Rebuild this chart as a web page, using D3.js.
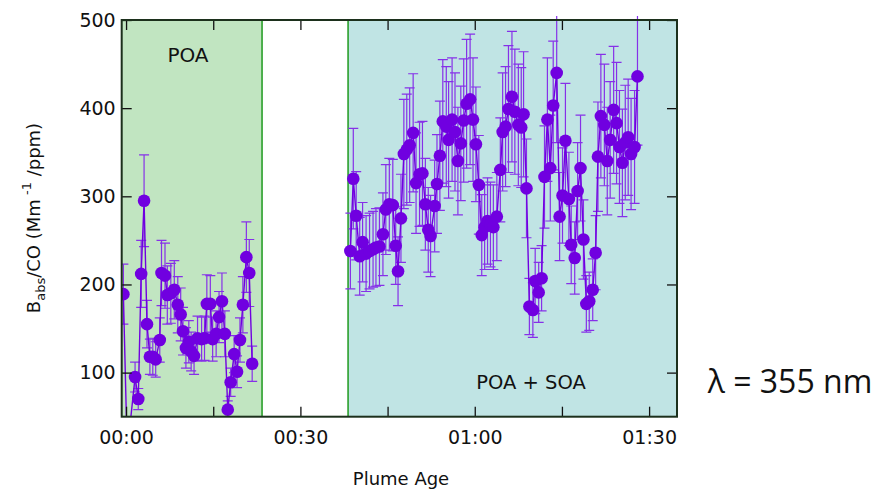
<!DOCTYPE html>
<html lang="en">
<head>
<meta charset="UTF-8">
<script src="https://d3js.org/d3.v7.min.js"></script>
<title>Babs/CO vs plume age</title>
<style>
  body { margin: 0; background: #fff; }
  svg { display: block; }
  text { font-family: "DejaVu Sans", sans-serif; fill: #111; }
</style>
</head>
<body>
<svg id="chart" width="879" height="490"></svg>
<script>
// plume age (minutes), Babs/CO and error, primary-only part
const poaAge = [-0.46, 0.2, 1.55, 2.1, 2.6, 3.1, 3.6, 4.1, 4.6, 5.1,
                5.8, 6.1, 6.7, 7.1, 7.7, 8.3, 8.9, 9.4, 9.8, 10.3,
                10.8, 11.2, 11.7, 12.3, 13.0, 13.5, 13.9, 14.5, 14.9, 15.5,
                16.0, 16.5, 17.0, 17.5, 18.0, 18.6, 19.1, 19.6, 20.1, 20.7,
                21.2, 21.7];
const poaRatio = [189, 10, 95, 70, 212, 295, 155, 118, 118, 115,
                  137, 213, 210, 188, 190, 194, 177, 166, 147, 128,
                  135, 124, 119, 139, 138, 139, 178, 178, 138, 144,
                  163, 181, 144, 58, 89, 121, 101, 137, 177, 231,
                  213, 110];
const poaErr = [34, 6, 17, 12, 38, 52, 27, 20, 21, 20,
                25, 37, 37, 33, 34, 33, 32, 30, 27, 23,
                24, 22, 21, 25, 25, 25, 33, 32, 25, 26,
                29, 32, 26, 10, 16, 21, 18, 25, 32, 40,
                38, 20];

// aged part (POA + SOA)
const soaAge = [38.6, 39.1, 39.6, 40.2, 40.7, 41.3, 41.9, 42.5, 43.0, 43.6,
                44.2, 44.7, 45.3, 45.9, 46.4, 46.8, 47.3, 47.8, 48.3, 48.8,
                49.4, 49.9, 50.5, 51.0, 51.5, 52.0, 52.4, 53.1, 53.5, 54.0,
                54.5, 55.1, 55.5, 56.1, 56.6, 57.1, 57.6, 58.1, 58.6, 59.2,
                59.7, 60.2, 60.7, 61.2, 61.7, 62.2, 62.7, 63.2, 63.8, 64.4,
                64.8, 65.3, 65.8, 66.4, 66.9, 67.5, 68.0, 68.4, 68.9, 69.4,
                70.0, 70.4, 71.0, 71.5, 72.0, 72.5, 73.0, 73.5, 74.1, 74.6,
                75.1, 75.6, 76.2, 76.6, 77.2, 77.7, 78.2, 78.7, 79.2, 79.7,
                80.3, 80.8, 81.2, 81.7, 82.3, 82.8, 83.3, 83.9, 84.4, 84.9,
                85.4, 85.9, 86.4, 86.9, 87.5, 88.0];
const soaRatio = [238, 320, 278, 232, 248, 235, 238, 240, 242, 243,
                  257, 285, 291, 290, 244, 215, 275, 348, 353, 358,
                  372, 315, 325, 326, 291, 262, 255, 289, 314, 346,
                  385, 379, 364, 387, 373, 340, 360, 386, 405, 410,
                  387, 359, 313, 256, 265, 272, 268, 265, 277, 330,
                  373, 379, 399, 413, 396, 381, 378, 393, 309, 175,
                  171, 204, 191, 207, 322, 387, 332, 403, 440, 277,
                  301, 363, 297, 245, 230, 306, 332, 251, 178, 181,
                  194, 236, 345, 391, 381, 340, 364, 398, 383, 356,
                  338, 361, 367, 348, 356, 436];
const soaErr = [43, 57, 50, 44, 45, 43, 43, 43, 44, 44,
                47, 51, 52, 52, 44, 39, 50, 62, 63, 65,
                67, 57, 59, 59, 52, 48, 46, 52, 56, 62,
                70, 68, 66, 70, 67, 61, 65, 70, 73, 74,
                70, 65, 56, 46, 48, 49, 48, 48, 50, 59,
                67, 68, 72, 74, 71, 69, 68, 71, 56, 32,
                31, 37, 34, 37, 58, 70, 60, 73, 79, 50,
                54, 65, 53, 44, 41, 55, 60, 45, 32, 33,
                35, 42, 62, 70, 69, 61, 66, 72, 69, 64,
                61, 65, 66, 63, 64, 78];

// shaded regimes (minutes) and axis ticks
const poaBand = [-0.75, 23.4];
const soaBand = [38.2, 94.8];
const xTicks = [0, 15, 30, 45, 60, 75, 90];
const xLabelTicks = [0, 30, 60, 90];
const yTicks = [100, 200, 300, 400, 500];

const svg = d3.select("#chart");
const plotL = 121.7, plotR = 677, plotT = 20, plotB = 416.7;

const x = d3.scaleLinear().domain([-0.75, 94.8]).range([plotL, plotR]);
const y = d3.scaleLinear().domain([50, 500]).range([plotB, plotT]);

const purple = "#7000e0";

// background bands
svg.append("rect")
    .attr("x", x(poaBand[0])).attr("y", plotT)
    .attr("width", x(poaBand[1]) - x(poaBand[0])).attr("height", plotB - plotT)
    .style("fill", "#c1e5c1");
svg.append("rect")
    .attr("x", x(soaBand[0])).attr("y", plotT)
    .attr("width", x(soaBand[1]) - x(soaBand[0])).attr("height", plotB - plotT)
    .style("fill", "#c0e4e4");
[poaBand[1], soaBand[0]].forEach(b => {
    svg.append("line")
        .attr("x1", x(b)).attr("x2", x(b))
        .attr("y1", plotT).attr("y2", plotB)
        .style("stroke", "#1e9a1e").style("stroke-width", 1.5);
});

svg.append("text")
    .attr("x", 188).attr("y", 62)
    .attr("text-anchor", "middle")
    .style("font-size", "20px")
    .text("POA");
svg.append("text")
    .attr("x", 531).attr("y", 389)
    .attr("text-anchor", "middle")
    .style("font-size", "19.5px")
    .text("POA + SOA");

// clip for data
svg.append("clipPath").attr("id", "plot-clip")
    .append("rect")
    .attr("x", plotL).attr("y", plotT - 4)
    .attr("width", plotR - plotL).attr("height", plotB - plotT + 4);

function fmtAge(m) {
    const f = d3.format("02d");
    return f(Math.floor(m / 60)) + ":" + f(m % 60);
}

function drawSeries(ages, vals, errs) {
    const pts = ages.map((a, i) => ({ a: a, v: vals[i], e: errs[i] }));
    const g = svg.append("g").attr("clip-path", "url(#plot-clip)");

    // error bars
    const eb = g.selectAll(".err").data(pts).enter().append("g");
    eb.append("line")
        .attr("x1", d => x(d.a)).attr("x2", d => x(d.a))
        .attr("y1", d => y(d.v - d.e)).attr("y2", d => y(d.v + d.e))
        .style("stroke", "#8630e8").style("stroke-width", 1.2);
    [-1, 1].forEach(s => {
        eb.append("line")
            .attr("x1", d => x(d.a) - 5).attr("x2", d => x(d.a) + 5)
            .attr("y1", d => y(d.v + s * d.e)).attr("y2", d => y(d.v + s * d.e))
            .style("stroke", "#8630e8").style("stroke-width", 1.2);
    });

    const line = d3.line().x(d => x(d.a)).y(d => y(d.v));
    g.append("path")
        .datum(pts)
        .attr("d", line)
        .style("fill", "none")
        .style("stroke", purple)
        .style("stroke-width", 1.4);

    g.selectAll(".pt").data(pts).enter().append("circle")
        .attr("cx", d => x(d.a)).attr("cy", d => y(d.v))
        .attr("r", 6.3)
        .style("fill", purple);
}

drawSeries(poaAge, poaRatio, poaErr);
drawSeries(soaAge, soaRatio, soaErr);

// axes with inward ticks
function styleAxis(g) {
    g.select(".domain").remove();
    g.selectAll(".tick line").style("stroke", "#111").style("stroke-width", 1.3);
    g.selectAll(".tick text")
        .style("font-family", "DejaVu Sans, sans-serif")
        .style("font-size", "19px")
        .style("fill", "#111");
}

svg.append("g")
    .attr("transform", `translate(0,${plotB})`)
    .call(d3.axisBottom(x).tickValues(xTicks).tickSize(-10).tickPadding(14)
        .tickFormat(d => xLabelTicks.includes(d) ? fmtAge(d) : ""))
    .call(styleAxis);
svg.append("g")
    .attr("transform", `translate(0,${plotT})`)
    .call(d3.axisTop(x).tickValues(xTicks).tickSize(-10).tickFormat(""))
    .call(styleAxis);
svg.append("g")
    .attr("transform", `translate(${plotL},0)`)
    .call(d3.axisLeft(y).tickValues(yTicks).tickSize(-10).tickPadding(6))
    .call(styleAxis);
svg.append("g")
    .attr("transform", `translate(${plotR},0)`)
    .call(d3.axisRight(y).tickValues(yTicks).tickSize(-10).tickFormat(""))
    .call(styleAxis);

// frame
svg.append("rect")
    .attr("x", plotL).attr("y", plotT)
    .attr("width", plotR - plotL).attr("height", plotB - plotT)
    .style("fill", "none").style("stroke", "#1c301c").style("stroke-width", 2);

// axis titles
svg.append("text")
    .attr("x", 401).attr("y", 485)
    .attr("text-anchor", "middle")
    .style("font-size", "18px")
    .text("Plume Age");

const yt = svg.append("text")
    .attr("transform", "translate(40,218) rotate(-90)")
    .attr("text-anchor", "middle")
    .style("font-size", "18px");
yt.append("tspan").text("B");
yt.append("tspan").attr("dy", 5).style("font-size", "13px").text("abs");
yt.append("tspan").attr("dy", -5).text("/CO (Mm");
yt.append("tspan").attr("dy", -9).style("font-size", "13px").text(" -1");
yt.append("tspan").attr("dy", 9).text(" /ppm)");

svg.append("text")
    .attr("x", 790).attr("y", 393)
    .attr("text-anchor", "middle")
    .style("font-family", "Open Sans, sans-serif")
    .style("font-size", "32px")
    .text("λ = 355 nm");
</script>
</body>
</html>
